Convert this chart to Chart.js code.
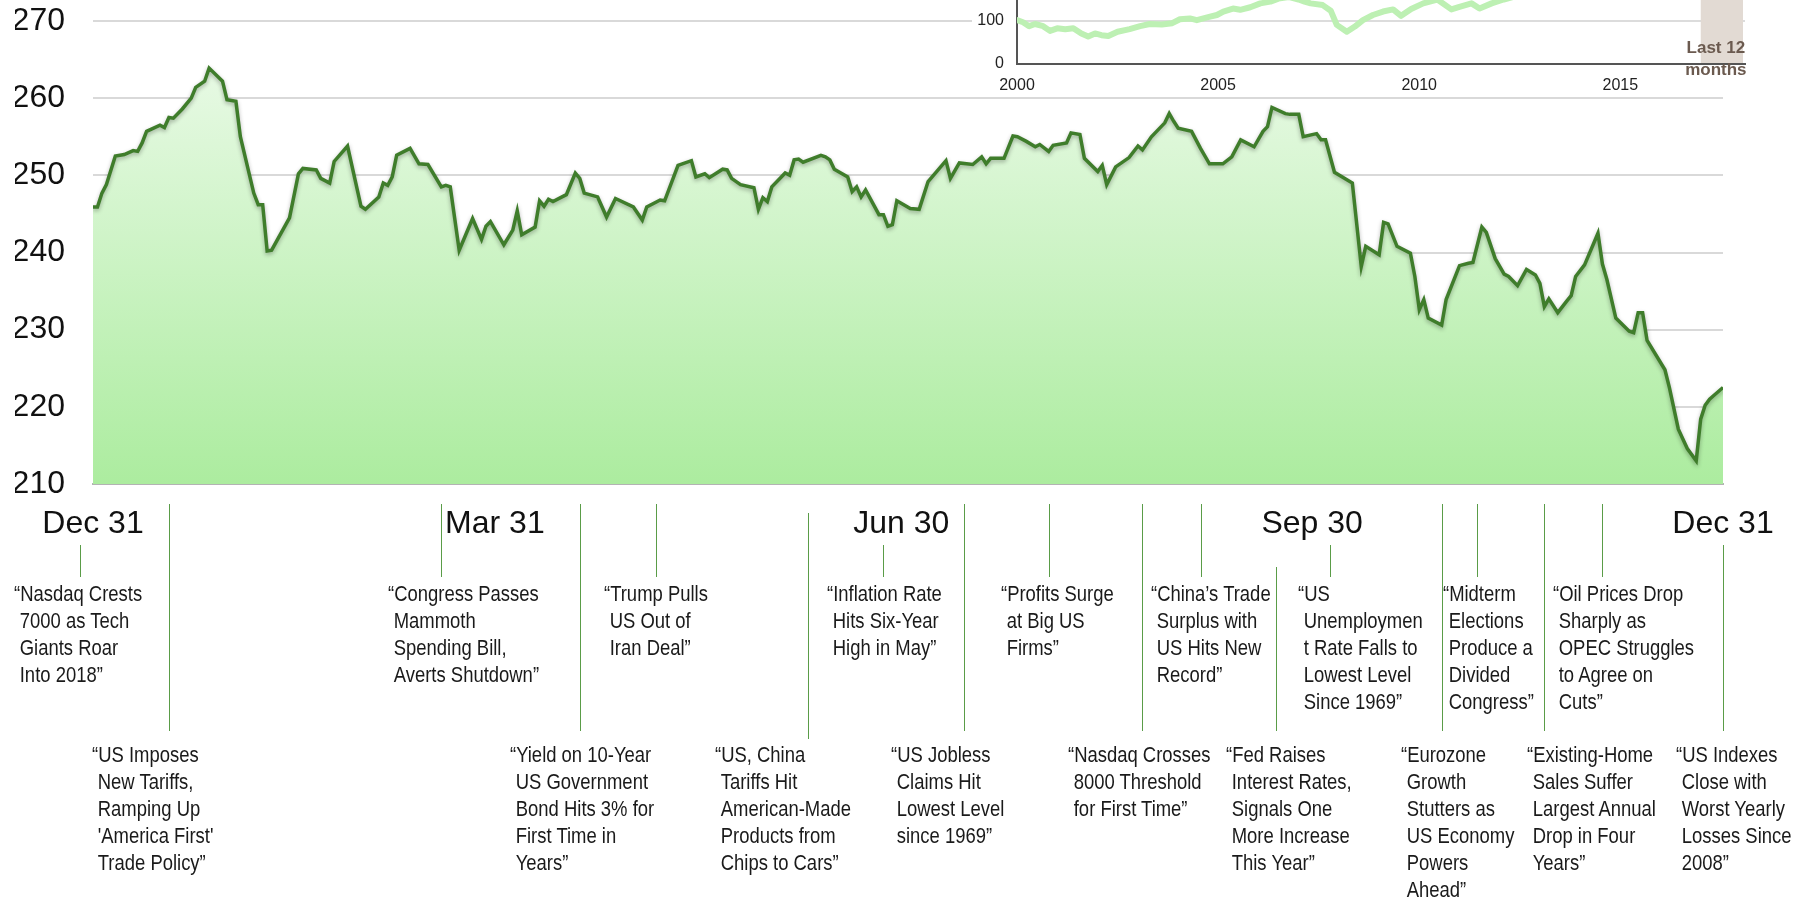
<!DOCTYPE html>
<html>
<head>
<meta charset="utf-8">
<title>2018 index with headlines</title>
<script src="https://cdn.jsdelivr.net/npm/chart.js@4.4.1/dist/chart.umd.min.js"></script>
<style>
  html, body { margin: 0; padding: 0; background: #fff; overflow: hidden; }
  #wrap { position: relative; width: 1805px; height: 900px; }
  #mainBox { position: absolute; left: 0; top: 0; width: 1805px; height: 900px; }
  #insetBox { position: absolute; left: 972px; top: -70px; width: 790px; height: 165px; background: #fff; }
  #last12 { position: absolute; width: 90px; text-align: center; font: bold 17px "Liberation Sans", Arial, sans-serif;
            line-height: 22px; color: #6b5a4f; white-space: nowrap; }
  .note { position: absolute; font-family: "Liberation Sans Narrow", sans-serif; font-size: 22.5px; line-height: 27px;
          color: #1a1a1a; white-space: nowrap; padding-left: 7px; text-indent: -7px; }
  .stem { position: absolute; width: 1px; background: #5a9c48; }
</style>
</head>
<body>
<div id="wrap">
  <div id="mainBox"><canvas id="mainChart"></canvas></div>
  <div id="insetBox"><canvas id="insetChart"></canvas></div>
  <div id="last12">Last 12<br>months</div>
  <div id="notes"></div>
</div>
<script>
// days after Dec 31, 2017 and index close
const tradeDays = [0, 1, 2, 3, 5, 7, 9, 10, 11, 12, 15, 16, 17, 18, 20, 22, 23, 25, 26, 29,
  30, 32, 33, 36, 37, 38, 39, 40, 44, 46, 47, 50, 51, 53, 54, 57, 60, 61, 64, 65,
  66, 67, 68, 71, 73, 75, 78, 79, 80, 82, 85, 87, 88, 89, 92, 94, 95, 96, 99, 100,
  101, 102, 103, 106, 108, 109, 110, 113, 115, 117, 121, 123, 124, 127, 128, 131, 134, 135, 137, 138,
  141, 142, 143, 145, 148, 149, 150, 151, 152, 155, 156, 157, 158, 159, 163, 164, 165, 166, 169, 170,
  171, 172, 173, 176, 177, 178, 179, 180, 183, 185, 187, 191, 192, 194, 197, 199, 200, 201, 204, 206,
  207, 209, 211, 212, 214, 215, 218, 219, 221, 222, 225, 226, 227, 229, 232, 234, 235, 237, 240, 241,
  242, 243, 246, 248, 250, 253, 255, 257, 260, 262, 263, 264, 267, 268, 269, 270, 271, 274, 275, 276,
  278, 282, 284, 285, 288, 289, 290, 292, 295, 296, 297, 298, 299, 302, 303, 306, 308, 309, 311, 312,
  314, 316, 317, 319, 321, 323, 324, 325, 326, 328, 330, 331, 332, 334, 337, 338, 339, 341, 344, 345,
  346, 347, 348, 352, 353, 355, 357, 359, 360, 361, 362, 363, 365];
const closes = [245.9, 245.9, 247.7, 248.8, 252.5, 252.7, 253.2, 253.1, 254.2, 255.7, 256.5, 256.2, 257.5, 257.4, 258.6, 260.0, 261.4, 262.2, 263.9, 262.2,
  259.8, 259.6, 255.0, 247.7, 246.2, 246.2, 240.2, 240.3, 244.5, 250.2, 250.9, 250.7, 249.6, 249.0, 251.8, 253.8, 246.0, 245.6, 247.2, 249.0,
  248.7, 249.8, 252.6, 253.5, 251.5, 251.4, 248.5, 248.7, 248.5, 240.3, 244.4, 241.7, 243.4, 244.0, 241.0, 242.9, 245.4, 242.3, 243.3, 246.7,
  246.0, 246.9, 246.6, 247.5, 250.3, 249.6, 247.7, 247.2, 244.6, 247.0, 245.9, 244.2, 245.9, 246.8, 246.7, 251.3, 251.9, 249.8, 250.2, 249.7,
  250.8, 250.7, 249.6, 248.8, 248.4, 245.6, 247.1, 246.6, 248.5, 250.3, 250.0, 252.0, 252.1, 251.7, 252.6, 252.4, 252.0, 250.8, 249.8, 247.9,
  248.5, 247.2, 248.1, 244.9, 244.9, 243.4, 243.6, 246.7, 245.7, 245.6, 249.2, 251.9, 249.6, 251.6, 251.4, 252.4, 251.5, 252.2, 252.2, 255.1,
  255.0, 254.4, 253.7, 254.0, 253.1, 253.9, 254.2, 255.5, 255.3, 252.2, 250.5, 251.3, 248.8, 251.1, 252.3, 253.8, 253.3, 255.0, 256.8, 258.0,
  257.0, 256.1, 255.7, 253.5, 251.5, 251.5, 252.4, 254.6, 253.7, 255.7, 256.3, 258.8, 258.0, 257.9, 257.9, 257.9, 255.0, 255.4, 254.6, 254.6,
  250.4, 249.0, 238.2, 240.8, 239.7, 243.9, 243.7, 240.8, 239.9, 236.9, 232.6, 233.9, 231.5, 230.6, 233.9, 238.3, 238.6, 238.7, 243.3, 242.6,
  239.2, 237.2, 236.9, 235.7, 237.8, 237.1, 236.0, 233.0, 234.0, 232.2, 233.7, 234.4, 236.9, 238.4, 242.5, 238.5, 236.5, 231.5, 229.8, 229.6,
  232.2, 232.2, 228.6, 224.8, 222.5, 217.1, 214.6, 213.0, 218.4, 220.2, 221.0, 221.5, 222.5];

const tickDays = [0, 90, 181, 273, 365];
const tickLabels = ['Dec 31', 'Mar 31', 'Jun 30', 'Sep 30', 'Dec 31'];

// headlines: day they point at, and the text lines
const noteDays = [-3, 78, 126, 177, 214, 248, 277, 310, 338, 17, 109, 160, 195, 235, 265, 302, 325, 365];
const noteTexts = [
  ['“Nasdaq Crests', '7000 as Tech', 'Giants Roar', 'Into 2018”'],
  ['“Congress Passes', 'Mammoth', 'Spending Bill,', 'Averts Shutdown”'],
  ['“Trump Pulls', 'US Out of', 'Iran Deal”'],
  ['“Inflation Rate', 'Hits Six-Year', 'High in May”'],
  ['“Profits Surge', 'at Big US', 'Firms”'],
  ['“China’s Trade', 'Surplus with', 'US Hits New', 'Record”'],
  ['“US', 'Unemploymen', 't Rate Falls to', 'Lowest Level', 'Since 1969”'],
  ['“Midterm', 'Elections', 'Produce a', 'Divided', 'Congress”'],
  ['“Oil Prices Drop', 'Sharply as', 'OPEC Struggles', 'to Agree on', 'Cuts”'],
  ['“US Imposes', 'New Tariffs,', 'Ramping Up', '\'America First\'', 'Trade Policy”'],
  ['“Yield on 10-Year', 'US Government', 'Bond Hits 3% for', 'First Time in', 'Years”'],
  ['“US, China', 'Tariffs Hit', 'American-Made', 'Products from', 'Chips to Cars”'],
  ['“US Jobless', 'Claims Hit', 'Lowest Level', 'since 1969”'],
  ['“Nasdaq Crosses', '8000 Threshold', 'for First Time”'],
  ['“Fed Raises', 'Interest Rates,', 'Signals One', 'More Increase', 'This Year”'],
  ['“Eurozone', 'Growth', 'Stutters as', 'US Economy', 'Powers', 'Ahead”'],
  ['“Existing-Home', 'Sales Suffer', 'Largest Annual', 'Drop in Four', 'Years”'],
  ['“US Indexes', 'Close with', 'Worst Yearly', 'Losses Since', '2008”']
];

// long-run inset
const insetYears = [2000.0, 2000.15, 2000.3, 2000.45, 2000.65, 2000.82, 2001.0, 2001.2, 2001.4, 2001.6,
  2001.77, 2001.94, 2002.1, 2002.27, 2002.5, 2002.8, 2003.06, 2003.3, 2003.6, 2003.86,
  2004.05, 2004.3, 2004.47, 2004.8, 2004.97, 2005.13, 2005.37, 2005.55, 2005.8, 2006.05,
  2006.3, 2006.5, 2006.75, 2007.0, 2007.15, 2007.3, 2007.6, 2007.8, 2007.95, 2008.2,
  2008.4, 2008.6, 2008.85, 2009.1, 2009.35, 2009.55, 2009.8, 2010.1, 2010.45, 2010.8,
  2011.0, 2011.3, 2011.5, 2011.8, 2012.1, 2012.5, 2013.0, 2013.5, 2014.0, 2014.5,
  2015.0, 2015.5, 2016.0, 2016.5, 2017.0, 2017.5, 2018.0];
const insetValues = [102, 97, 88, 93, 88, 77, 83, 81, 83, 71,
  64, 71, 67, 65, 75, 81, 88, 93, 92, 95,
  104, 106, 102, 110, 114, 122, 129, 126, 132, 141,
  145, 152, 156, 150, 145, 141, 137, 124, 91, 75,
  87, 102, 114, 122, 127, 112, 128, 141, 150, 127,
  133, 141, 129, 141, 150, 160, 172, 185, 198, 205,
  212, 215, 205, 218, 232, 245, 262];
const insetTickYears = [2000, 2005, 2010, 2015];
const lastYearBand = [2017, 2018.05];

// layout of the headline blocks (not data)
const noteDx = [-66, -53, -52, -56, -48, -50, -32, -34, -49, -77, -70, -93, -73, -74, -50, -41, -17, -47];
const stemTop = [545, 504, 504, 545, 504, 504, 545, 504, 504, 504, 504, 513, 504, 504, 567, 504, 504, 545];

const yMin = 210, yMax = 270;
const labelFont = '"Liberation Sans", Arial, sans-serif';

function hasFont(name) {
  const c = document.createElement('canvas').getContext('2d');
  const s = 'Nasdaq Crests 7000 as Tech';
  c.font = '40px monospace';
  const a = c.measureText(s).width;
  c.font = '40px "' + name + '", monospace';
  return c.measureText(s).width !== a;
}

const lineShadow = {
  id: 'lineShadow',
  beforeDatasetDraw(chart, args) {
    if (args.index !== 0) return;
    const c = chart.ctx;
    c.save();
    c.shadowColor = 'rgba(0,0,0,0.3)';
    c.shadowBlur = 4;
    c.shadowOffsetY = 2;
  },
  afterDatasetDraw(chart, args) {
    if (args.index !== 0) return;
    chart.ctx.restore();
  }
};

const lastDay = tradeDays[tradeDays.length - 1];
const lastClose = closes[closes.length - 1];

const mainChart = new Chart(document.getElementById('mainChart'), {
  type: 'line',
  data: {
    datasets: [{
      data: tradeDays.map((d, i) => ({ x: d, y: closes[i] })),
      borderColor: '#3f7d2b',
      borderWidth: 3.5,
      pointRadius: 0,
      tension: 0,
      fill: 'start',
      backgroundColor: ctx => {
        const a = ctx.chart.chartArea;
        if (!a) return '#cdf3c6';
        const g = ctx.chart.ctx.createLinearGradient(0, a.top, 0, a.bottom);
        g.addColorStop(0, '#eefbec');
        g.addColorStop(1, '#acec9f');
        return g;
      }
    }, {
      // closing edge of the area on the right
      data: [{ x: lastDay, y: yMin }, { x: lastDay, y: lastClose }],
      borderColor: '#3f7d2b',
      borderWidth: 2.5,
      pointRadius: 0,
      fill: false
    }]
  },
  options: {
    responsive: true,
    maintainAspectRatio: false,
    animation: false,
    layout: { padding: { left: 15, right: 82, top: 21, bottom: 356 } },
    plugins: { legend: { display: false }, tooltip: { enabled: false } },
    scales: {
      x: {
        type: 'linear', min: 0, max: 365,
        grid: { display: false },
        border: { display: true, color: '#b3b3b3', width: 2 },
        afterBuildTicks: s => { s.ticks = tickDays.map(v => ({ value: v })); },
        afterFit: s => { s.height = 60; },
        ticks: {
          autoSkip: false, maxRotation: 0, padding: 13, color: '#111',
          font: { family: labelFont, size: 32 },
          callback: (v, i) => tickLabels[i]
        }
      },
      y: {
        min: yMin, max: yMax,
        afterFit: s => { s.width = 78; s.paddingTop = 0; s.paddingBottom = 0; },
        grid: { color: '#d9d9d9', lineWidth: 2, drawTicks: false },
        border: { display: false },
        ticks: { stepSize: 10, padding: 28, color: '#111', font: { family: labelFont, size: 32 } }
      }
    }
  },
  plugins: [lineShadow]
});

const bandPlugin = {
  id: 'band',
  beforeDatasetsDraw(chart) {
    const { ctx, chartArea: a, scales: { x } } = chart;
    const l = x.getPixelForValue(lastYearBand[0]);
    const r = x.getPixelForValue(lastYearBand[1]);
    ctx.save();
    ctx.fillStyle = '#e2dad3';
    ctx.fillRect(l, a.top, r - l, a.bottom - a.top - 1);
    ctx.restore();
  }
};

const insetChart = new Chart(document.getElementById('insetChart'), {
  type: 'line',
  data: {
    datasets: [{
      data: insetYears.map((t, i) => ({ x: t, y: insetValues[i] })),
      borderColor: '#bdf0b3',
      borderWidth: 6,
      borderJoinStyle: 'round',
      borderCapStyle: 'round',
      pointRadius: 0,
      tension: 0,
      fill: false
    }]
  },
  options: {
    responsive: true,
    maintainAspectRatio: false,
    animation: false,
    layout: { padding: { left: 0, right: 17, top: 5, bottom: 3 } },
    plugins: { legend: { display: false }, tooltip: { enabled: false } },
    scales: {
      x: {
        type: 'linear', min: 2000, max: 2018.1,
        grid: { display: false },
        border: { color: '#555', width: 2 },
        afterBuildTicks: s => { s.ticks = insetTickYears.map(v => ({ value: v })); },
        afterFit: s => { s.height = 28; s.paddingLeft = 0; s.paddingRight = 0; },
        ticks: { padding: 4, color: '#222', font: { family: labelFont, size: 16 }, callback: v => String(v) }
      },
      y: {
        min: 0, max: 300,
        afterFit: s => { s.width = 45; s.paddingTop = 0; s.paddingBottom = 0; },
        grid: { color: '#dcdcdc', lineWidth: 2, drawTicks: false },
        border: { color: '#555', width: 2 },
        ticks: { stepSize: 100, padding: 13, color: '#222', font: { family: labelFont, size: 16 } }
      }
    }
  },
  plugins: [bandPlugin]
});

// "Last 12 months" caption over the band
(function () {
  const box = document.getElementById('insetBox');
  const x = insetChart.scales.x;
  const mid = (x.getPixelForValue(lastYearBand[0]) + x.getPixelForValue(lastYearBand[1])) / 2;
  const el = document.getElementById('last12');
  el.style.left = (box.offsetLeft + mid - 6 - 45) + 'px';
  el.style.top = '37px';
})();

// headlines under the axis
(function () {
  const narrow = hasFont('Liberation Sans Narrow');
  const holder = document.getElementById('notes');
  const xs = mainChart.scales.x;
  noteDays.forEach((d, i) => {
    const px = xs.getPixelForValue(d);
    const lower = i >= 9;
    const stem = document.createElement('div');
    stem.className = 'stem';
    stem.style.left = Math.round(px) + 'px';
    stem.style.top = stemTop[i] + 'px';
    stem.style.height = ((lower ? 731 : 577) - stemTop[i] + (i === 11 ? 8 : 0)) + 'px';
    holder.appendChild(stem);

    const note = document.createElement('div');
    note.className = 'note';
    note.innerHTML = noteTexts[i].join('<br>');
    note.style.left = Math.round(px + noteDx[i]) + 'px';
    note.style.top = (lower ? 741 : 580) + 'px';
    if (!narrow) {
      note.style.fontFamily = labelFont;
      note.style.transform = 'scaleX(0.82)';
      note.style.transformOrigin = '0 0';
    }
    holder.appendChild(note);
  });
})();
</script>
</body>
</html>
